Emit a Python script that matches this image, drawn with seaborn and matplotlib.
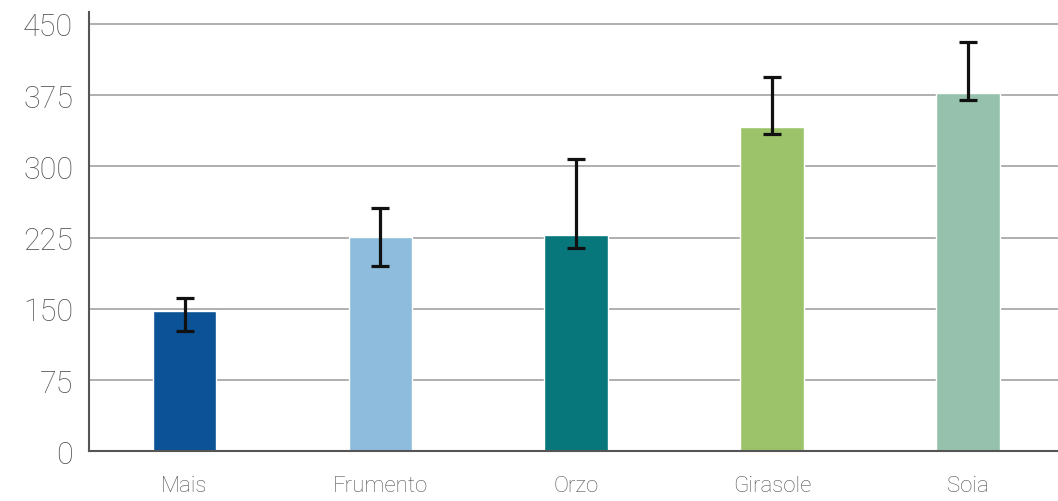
import matplotlib
matplotlib.use("Agg")
import matplotlib.pyplot as plt
import seaborn as sns
import pandas as pd
import numpy as np

categories = ["Mais", "Frumento", "Orzo", "Girasole", "Soia"]
values = [148, 226, 228, 341, 377]
err_high = [161, 256, 308, 394, 431]
err_low = [127, 195, 214, 334, 370]
colors = ["#0c5297", "#8dbcdc", "#08777b", "#9cc36a", "#96c2ad"]
y_ticks = [0, 75, 150, 225, 300, 375, 450]

sns.set_theme(style="white")
plt.rcParams["font.family"] = ["Roboto", "DejaVu Sans"]

df = pd.DataFrame({"cat": categories, "val": values})

fig = plt.figure(figsize=(10.58, 5.02), dpi=100)
ax = fig.add_axes([0.0837, 0.099, 0.9163, 0.875])

sns.barplot(data=df, x="cat", y="val", hue="cat", palette=colors, order=categories,
            hue_order=categories, width=0.325, legend=False, ax=ax, zorder=2,
            saturation=1)

x = np.arange(len(categories))
vals = np.array(values)
yerr = np.vstack([vals - np.array(err_low), np.array(err_high) - vals])
ax.errorbar(x, vals, yerr=yerr, fmt="none", ecolor="#111111", elinewidth=2.3,
            capsize=6.5, capthick=2.3, zorder=3)

ax.set_xlim(-0.49, 4.46)
ax.set_ylim(0, 462.5)
ax.set_yticks(y_ticks)
ax.set_yticklabels([str(t) for t in y_ticks], fontsize=22, color="#555555", fontweight="light")
ax.set_xticks(x)
ax.set_xticklabels(categories, fontsize=16, color="#555555", fontweight="light")
ax.tick_params(axis="y", length=0, pad=11)
ax.tick_params(axis="x", length=0, pad=17)
ax.set_xlabel("")
ax.set_ylabel("")

ax.yaxis.grid(True, color="#9a9a9a", linewidth=1.1, zorder=0)
ax.xaxis.grid(False)
ax.set_axisbelow(True)

for s in ["top", "right"]:
    ax.spines[s].set_visible(False)
ax.spines["left"].set_color("#555555")
ax.spines["left"].set_linewidth(1.5)
ax.spines["bottom"].set_color("#555555")
ax.spines["bottom"].set_linewidth(1.5)

fig.savefig("out.png", dpi=100)
